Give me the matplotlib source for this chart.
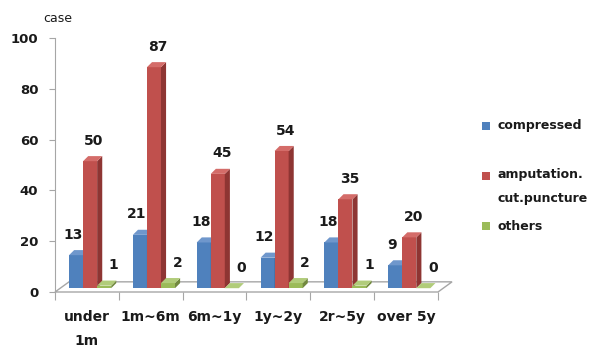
import matplotlib.pyplot as plt
from matplotlib.patches import Polygon, Rectangle

categories = ["under\n1m", "1m~6m", "6m~1y", "1y~2y", "2r~5y", "over 5y"]
compressed = [13, 21, 18, 12, 18, 9]
amputation = [50, 87, 45, 54, 35, 20]
others = [1, 2, 0, 2, 1, 0]
series_names = ["compressed", "amputation.\ncut.puncture", "others"]
yticks = [0, 20, 40, 60, 80, 100]

front = ["#4F81BD", "#C0504D", "#9BBB59"]
side = ["#3B6390", "#8E3533", "#72893F"]
top = ["#6F97CC", "#D46C69", "#B1CC7A"]

fig = plt.figure(figsize=(5.97, 3.5), dpi=100)
ax = fig.add_axes([55 / 597, 58 / 350, 383 / 597, 254 / 350])
ax.set_xlim(-0.5, len(categories) - 0.5)
ax.set_ylim(0, 100)

# fake 3d: offsets in data units
w = 0.22
offs = [-0.17, 0.05, 0.27]
dx, dy = 0.08, 2.0
base = 1.5
lab_dx = [-4, 1, 5]

# floor
fdx, fdy = 0.22, 4.0
n = len(categories)
floor = Polygon([(-0.5, 0), (n - 0.5, 0), (n - 0.5 + fdx, fdy), (-0.5 + fdx, fdy)],
                closed=True, facecolor="white", edgecolor="#A6A6A6", lw=1, clip_on=False, zorder=1)
ax.add_patch(floor)

data = [compressed, amputation, others]
for i in range(n):
    for s in range(3):
        v = data[s][i]
        x0 = i + offs[s] - w / 2
        ax.bar(x0, v, width=w, bottom=base, align="edge", color=front[s], zorder=3, clip_on=False)
        ax.add_patch(Polygon([(x0 + w, base), (x0 + w + dx, base + dy), (x0 + w + dx, base + v + dy),
                              (x0 + w, base + v)], closed=True, facecolor=side[s], lw=0, zorder=3, clip_on=False))
        ax.add_patch(Polygon([(x0, base + v), (x0 + dx, base + v + dy), (x0 + w + dx, base + v + dy),
                              (x0 + w, base + v)], closed=True, facecolor=top[s], lw=0, zorder=3, clip_on=False))
        ax.annotate(str(v), (x0 + w / 2 + dx / 2, base + v + dy), xytext=(lab_dx[s], 6),
                    textcoords="offset points", ha="center", va="bottom",
                    fontsize=10, fontweight="bold", color="#1a1a1a", zorder=4)

for sp in ["top", "right", "bottom"]:
    ax.spines[sp].set_visible(False)
ax.spines["left"].set_color("#A6A6A6")
ax.set_yticks(yticks)
ax.tick_params(axis="y", colors="#A6A6A6", length=4, pad=8, labelcolor="#1a1a1a", labelsize=9.5)
for t in ax.get_yticklabels():
    t.set_fontweight("bold")

ax.set_xticks([i - 0.5 for i in range(n + 1)])
ax.set_xticklabels([])
ax.tick_params(axis="x", colors="#A6A6A6", length=6)
ax.set_xticks(range(n), minor=True)
ax.set_xticklabels(categories, minor=True, fontsize=10, fontweight="bold", color="#1a1a1a",
                   linespacing=1.9, va="top")
ax.tick_params(axis="x", which="minor", length=0, pad=13)

fig.text(43 / 597, 1 - 18 / 350, "case", fontsize=9, color="#1a1a1a", va="center")

# legend
leg_y = [126, 176, 226]
for s in range(3):
    y = 1 - leg_y[s] / 350
    fig.patches.append(Rectangle((482 / 597, y - 4 / 350), 8 / 597, 8 / 350,
                                 transform=fig.transFigure, facecolor=front[s], lw=0))
    if s == 1:
        fig.text(497 / 597, y + 8 / 350, series_names[s], fontsize=9, fontweight="bold",
                 color="#1a1a1a", va="top", linespacing=2.1)
    else:
        fig.text(497 / 597, y, series_names[s], fontsize=9, fontweight="bold",
                 color="#1a1a1a", va="center")

fig.savefig("out.png", dpi=100)
